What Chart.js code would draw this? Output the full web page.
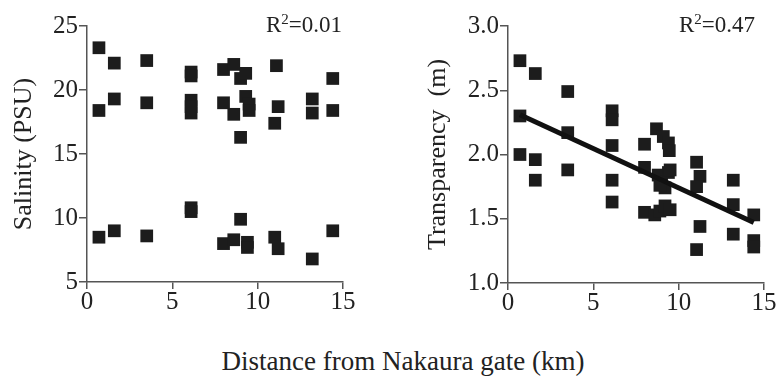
<!DOCTYPE html>
<html>
<head>
<meta charset="utf-8">
<script src="https://cdn.jsdelivr.net/npm/chart.js@4/dist/chart.umd.min.js"></script>
<style>
  html, body { margin: 0; padding: 0; background: #fff; width: 777px; height: 376px; overflow: hidden; }
  canvas { position: absolute; top: 0; }
  #xTitle {
    position: absolute; left: 0; top: 348px; width: 806px;
    text-align: center; font: 27px/27px "Liberation Serif", serif; color: #222;
  }
</style>
</head>
<body>
<canvas id="salChart" width="390" height="330" style="left:0"></canvas>
<canvas id="trChart" width="367" height="330" style="left:410px"></canvas>
<div id="xTitle">Distance from Nakaura gate (km)</div>
<script>
// Salinity panel (distance km, PSU)
const salDist = [0.7, 0.7, 1.6, 1.6, 3.5, 3.5, 6.1, 6.1, 6.1, 6.1, 6.1, 8.0, 8.0, 8.6, 8.6, 9.0, 9.0, 9.3, 9.3, 9.5, 9.5, 11.0, 11.1, 11.2, 13.2, 13.2, 14.4, 14.4,
                 0.7, 1.6, 3.5, 6.1, 6.1, 8.0, 8.6, 9.0, 9.4, 9.4, 11.0, 11.2, 13.2, 14.4];
const salValue = [23.3, 18.4, 22.1, 19.3, 22.3, 19.0, 21.4, 21.1, 19.2, 18.7, 18.2, 21.6, 19.0, 22.0, 18.1, 20.9, 16.3, 21.3, 19.5, 18.9, 18.4, 17.4, 21.9, 18.7, 19.3, 18.2, 20.9, 18.4,
                  8.5, 9.0, 8.6, 10.8, 10.5, 8.0, 8.3, 9.9, 8.1, 7.7, 8.5, 7.6, 6.8, 9.0];

// Transparency panel (distance km, m)
const trDist = [0.7, 0.7, 0.7, 1.6, 1.6, 1.6, 3.5, 3.5, 3.5, 6.1, 6.1, 6.1, 6.1, 6.1, 8.0, 8.0, 8.0,
                8.7, 9.1, 9.4, 9.45, 8.8, 9.0, 9.2, 8.9, 9.4, 9.5, 8.6, 8.9, 9.2, 9.5,
                11.05, 11.25, 11.05, 11.25, 11.05, 13.2, 13.2, 13.2, 14.4, 14.4, 14.4];
const trValue = [2.73, 2.30, 2.00, 2.63, 1.96, 1.80, 2.49, 2.17, 1.88, 2.34, 2.27, 2.07, 1.80, 1.63, 2.08, 1.90, 1.55,
                 2.20, 2.14, 2.09, 2.03, 1.84, 1.79, 1.74, 1.76, 1.86, 1.88, 1.53, 1.56, 1.60, 1.57,
                 1.94, 1.83, 1.75, 1.44, 1.26, 1.80, 1.61, 1.38, 1.53, 1.33, 1.28];

// regression line end points (transparency)
const fitDist = [0.7, 14.4];
const fitValue = [2.31, 1.47];

const r2Text = ['0.01', '0.47'];

const ink = '#1c1c1c';
const axisGrey = '#555';
const serif = '"Liberation Serif", serif';

const toPoints = (xs, ys) => xs.map((x, i) => ({ x: x, y: ys[i] }));

const r2Label = {
    id: 'r2Label',
    afterDraw(chart, args, opts) {
        const ctx = chart.ctx;
        ctx.save();
        ctx.fillStyle = '#222';
        ctx.textBaseline = 'alphabetic';
        ctx.textAlign = 'left';
        ctx.font = '23px ' + serif;
        const wR = ctx.measureText('R').width;
        const rest = '=' + opts.text;
        const wRest = ctx.measureText(rest).width;
        ctx.font = '15px ' + serif;
        const w2 = ctx.measureText('2').width;
        let x = opts.right - (wR + w2 + wRest);
        ctx.font = '23px ' + serif;
        ctx.fillText('R', x, opts.base);
        ctx.font = '15px ' + serif;
        ctx.fillText('2', x + wR, opts.base - 8);
        ctx.font = '23px ' + serif;
        ctx.fillText(rest, x + wR + w2, opts.base);
        ctx.restore();
    }
};

function makePanel(id, datasets, p) {
    return new Chart(document.getElementById(id), {
        type: 'scatter',
        data: { datasets: datasets },
        options: {
            responsive: false,
            animation: false,
            layout: { padding: { top: 26, right: p.padRight, left: 0, bottom: 0 } },
            plugins: {
                legend: { display: false },
                tooltip: { enabled: false },
                r2Label: { text: p.r2, right: p.r2Right, base: 31.5 }
            },
            scales: {
                x: {
                    type: 'linear',
                    min: 0,
                    max: 15,
                    ticks: { stepSize: 5, color: '#222', font: { family: serif, size: 25 }, padding: -2, maxRotation: 0 },
                    grid: { drawOnChartArea: false, tickLength: 7, color: axisGrey, lineWidth: 1.5 },
                    border: { color: axisGrey, width: 1.5 },
                    afterFit: s => { s.height = p.xHeight; }
                },
                y: {
                    min: p.yMin,
                    max: p.yMax,
                    ticks: { stepSize: p.yStep, color: '#222', font: { family: serif, size: 25 }, padding: 1, callback: p.fmt },
                    grid: { drawOnChartArea: false, tickLength: 8, color: axisGrey, lineWidth: 1.5 },
                    border: { color: axisGrey, width: 1.5 },
                    title: { display: true, text: p.title, color: '#222', font: { family: serif, size: 26 }, padding: { top: p.titlePad, bottom: 0 } },
                    afterFit: s => { s.width = p.yWidth; }
                }
            }
        },
        plugins: [r2Label]
    });
}

const squares = (xs, ys) => ({
    data: toPoints(xs, ys),
    pointStyle: 'rect',
    pointRadius: 9,
    pointBackgroundColor: ink,
    pointBorderWidth: 0,
    borderColor: ink,
    backgroundColor: ink
});

makePanel('salChart', [squares(salDist, salValue)], {
    padRight: 47, xHeight: 48, yWidth: 87, yMin: 5, yMax: 25, yStep: 5,
    fmt: v => String(v), title: 'Salinity (PSU)', titlePad: 9,
    r2: r2Text[0], r2Right: 342
});

makePanel('trChart', [
    {
        data: toPoints(fitDist, fitValue),
        showLine: true,
        pointRadius: 0,
        borderColor: '#111',
        borderWidth: 5,
        order: 1
    },
    Object.assign(squares(trDist, trValue), { order: 2 })
], {
    padRight: 13, xHeight: 47, yWidth: 98, yMin: 1, yMax: 3, yStep: 0.5,
    fmt: v => v.toFixed(1), title: 'Transparency  (m)', titlePad: 13,
    r2: r2Text[1], r2Right: 345
});
</script>
</body>
</html>
